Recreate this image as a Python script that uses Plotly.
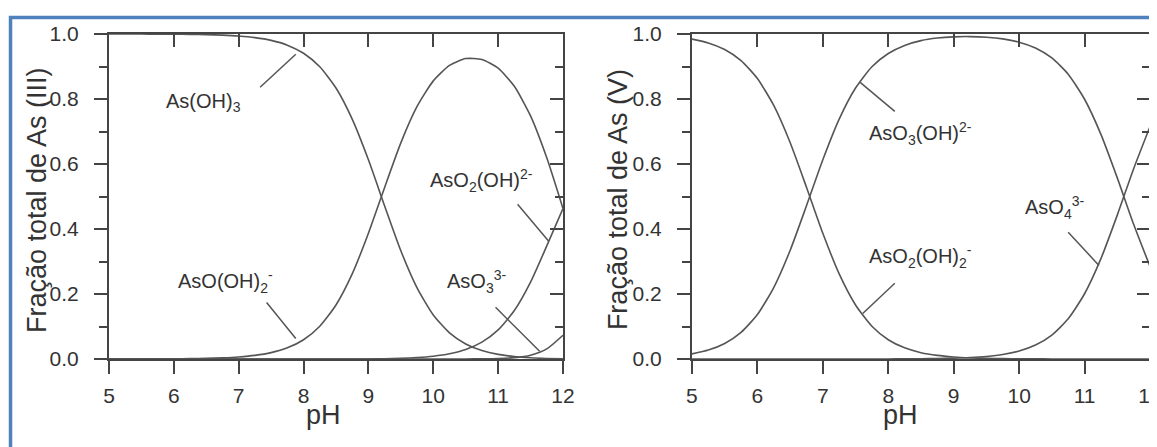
import plotly.graph_objects as go

# ---------------- data ----------------
ph = [5.0, 5.25, 5.5, 5.75, 6.0, 6.25, 6.5, 6.75, 7.0, 7.25, 7.5, 7.75, 8.0, 8.25,
      8.5, 8.75, 9.0, 9.25, 9.5, 9.75, 10.0, 10.25, 10.5, 10.75, 11.0, 11.25, 11.5, 11.75, 12.0]

# As(III)
as3_h3 = [1.0, 1.0, 0.9998, 0.9996, 0.9994, 0.9989, 0.998, 0.9965, 0.9937, 0.9889, 0.9804,
          0.9657, 0.9407, 0.8991, 0.8337, 0.7381, 0.613, 0.471, 0.333, 0.219, 0.1356, 0.0805,
          0.0463, 0.026, 0.0142, 0.0075, 0.0037, 0.0017, 0.0007]
as3_h2 = [0.0001, 0.0001, 0.0002, 0.0004, 0.0006, 0.0011, 0.002, 0.0035, 0.0063, 0.0111,
          0.0196, 0.0343, 0.0593, 0.1009, 0.1663, 0.2619, 0.387, 0.528, 0.665, 0.777, 0.8558,
          0.9034, 0.9244, 0.9218, 0.895, 0.839, 0.748, 0.619, 0.463]
as3_h1 = [0, 0, 0, 0, 0, 0, 0, 0, 0, 0, 0, 0, 0, 0, 0, 0, 0.0002, 0.001, 0.002, 0.0044,
          0.0086, 0.0161, 0.0292, 0.0518, 0.0895, 0.149, 0.2365, 0.348, 0.463]
as3_h0 = [0, 0, 0, 0, 0, 0, 0, 0, 0, 0, 0, 0, 0, 0, 0, 0, 0, 0, 0, 0, 0.0001, 0.0001,
          0.0002, 0.0005, 0.0014, 0.0042, 0.0118, 0.031, 0.073]

# As(V)
as5_h2 = [0.9844, 0.9726, 0.9523, 0.9182, 0.8632, 0.7801, 0.6661, 0.5287, 0.3869, 0.2619,
          0.1663, 0.1009, 0.0593, 0.0343, 0.0195, 0.0111, 0.0063, 0.0035, 0.002, 0.0011,
          0.0006, 0.0003, 0.0002, 0.0001, 0.0001, 0, 0, 0, 0]
as5_h1 = [0.0156, 0.0274, 0.0477, 0.0818, 0.1368, 0.2199, 0.3339, 0.4713, 0.6131, 0.7381,
          0.8337, 0.8991, 0.940, 0.965, 0.9797, 0.9875, 0.9913, 0.992, 0.990, 0.9849, 0.9749,
          0.9569, 0.9264, 0.8762, 0.7992, 0.6912, 0.5573, 0.4145, 0.2847]
as5_h0 = [0, 0, 0, 0, 0, 0, 0, 0, 0, 0, 0, 0, 0.0002, 0.0004, 0.0008, 0.0014, 0.0025,
          0.0044, 0.0079, 0.0139, 0.0245, 0.0428, 0.0736, 0.1238, 0.2008, 0.3088, 0.4427,
          0.5855, 0.7153]

x_ticks = [5, 6, 7, 8, 9, 10, 11, 12]
y_ticks = [0.0, 0.2, 0.4, 0.6, 0.8, 1.0]
y_titles = ["Fração total de As (III)", "Fração total de As (V)"]

# labels: (text, x, y) and leader lines (x0, y0, x1, y1), in data units
labels_iii = [("As(OH)<sub>3</sub>", 6.45, 0.79),
              ("AsO(OH)<sub>2</sub><sup>-</sup>", 6.79, 0.24),
              ("AsO<sub>2</sub>(OH)<sup>2-</sup>", 10.75, 0.55),
              ("AsO<sub>3</sub><sup>3-</sup>", 10.67, 0.24)]
leaders_iii = [(7.33, 0.836, 7.88, 0.9375), (7.43, 0.174, 7.88, 0.063),
               (11.30, 0.476, 11.78, 0.362), (10.96, 0.159, 11.64, 0.024)]
labels_v = [("AsO<sub>3</sub>(OH)<sup>2-</sup>", 8.49, 0.695),
            ("AsO<sub>2</sub>(OH)<sub>2</sub><sup>-</sup>", 8.49, 0.315),
            ("AsO<sub>4</sub><sup>3-</sup>", 10.54, 0.465)]
leaders_v = [(8.10, 0.762, 7.57, 0.851), (8.10, 0.233, 7.61, 0.140),
             (10.75, 0.39, 11.22, 0.288)]
# title placement (x-title centre along each x axis in data units; y-title centre in paper units)
ph_title_x = [8.30, 8.18]
ytitle_paper_x = [-0.0692, 0.4890]

# ---------------- styling ----------------
FONT = "Liberation Sans, Arial, Helvetica, sans-serif"
LINE_C = "#555555"
AX_C = "#444444"
TXT_C = "#333333"
CLEAR = "rgba(0,0,0,0)"

fig = go.Figure()

def add_series(xa, ya, ys):
    for y in ys:
        fig.add_trace(go.Scatter(x=ph, y=y, mode="lines", xaxis=xa, yaxis=ya,
                                 line=dict(color=LINE_C, width=1.6, shape="spline", smoothing=0.6),
                                 hoverinfo="skip", showlegend=False))

add_series("x", "y", [as3_h3, as3_h2, as3_h1, as3_h0])
add_series("x2", "y2", [as5_h2, as5_h1, as5_h0])
# invisible traces to activate the extra tick-only axes
for xa_, ya_, yv in (("x3", "y3", as3_h3), ("x4", "y4", as5_h2),
                     ("x5", "y5", as3_h3), ("x6", "y6", as5_h2)):
    fig.add_trace(go.Scatter(x=ph, y=yv, mode="lines", xaxis=xa_, yaxis=ya_,
                             line=dict(width=0), opacity=0, hoverinfo="skip", showlegend=False))

tickfont = dict(family=FONT, size=21, color=TXT_C)
titlefont = dict(family=FONT, size=27, color=TXT_C)

# main axes: carry the labels; their (transparent) tick length sets the label distance
def xa(domain, anchor):
    return dict(domain=domain, anchor=anchor, range=[5, 12], tickmode="array", tickvals=x_ticks,
                ticks="outside", ticklen=17, tickwidth=2, tickcolor=CLEAR,
                showline=True, linecolor=AX_C, linewidth=2, showgrid=False, zeroline=False,
                tickfont=tickfont)

def ya(anchor):
    return dict(domain=[0, 1], anchor=anchor, range=[0, 1], tickmode="array", tickvals=y_ticks,
                tickformat=".1f", ticks="outside", ticklen=24, tickwidth=2, tickcolor=CLEAR,
                minor=dict(dtick=0.1, ticks="outside", ticklen=8, tickwidth=2, tickcolor=AX_C),
                showline=True, linecolor=AX_C, linewidth=2, showgrid=False, zeroline=False,
                tickfont=tickfont)

# tick-only overlay axes
def xt(over, anchor, side, ticks):
    return dict(overlaying=over, anchor=anchor, side=side, range=[5, 12], tickmode="array",
                tickvals=x_ticks, ticks=ticks, ticklen=13, tickwidth=2, tickcolor=AX_C,
                showticklabels=False, showline=True, linecolor=AX_C, linewidth=2,
                showgrid=False, zeroline=False)

def yt(over, anchor, side, ticks):
    d = dict(overlaying=over, anchor=anchor, side=side, range=[0, 1], tickmode="array",
             tickvals=y_ticks, ticks=ticks, ticklen=13, tickwidth=2, tickcolor=AX_C,
             showticklabels=False, showline=True, linecolor=AX_C, linewidth=2,
             showgrid=False, zeroline=False)
    if ticks == "inside":
        d["minor"] = dict(dtick=0.1, ticks="inside", ticklen=8, tickwidth=2, tickcolor=AX_C)
    return d

# the page adds an 8px body margin, so margins are set 8px smaller on top/left
fig.update_layout(
    width=1157, height=447,
    margin=dict(l=101, r=15, t=26, b=96, autoexpand=False),
    paper_bgcolor="white", plot_bgcolor="white",
    xaxis=xa([0, 0.4361], "y"), yaxis=ya("x"),
    xaxis2=xa([0.56, 1], "y2"), yaxis2=ya("x2"),
    xaxis3=xt("x", "y3", "top", "inside"), yaxis3=yt("y", "x3", "right", "inside"),
    xaxis4=xt("x2", "y4", "top", "inside"), yaxis4=yt("y2", "x4", "right", "inside"),
    xaxis5=xt("x", "y5", "bottom", "outside"), yaxis5=yt("y", "x5", "left", "outside"),
    xaxis6=xt("x2", "y6", "bottom", "outside"), yaxis6=yt("y2", "x6", "left", "outside"),
)

annots = []
shapes = []
for (lab, leaders, xr, yr) in ((labels_iii, leaders_iii, "x", "y"), (labels_v, leaders_v, "x2", "y2")):
    for t, x, y in lab:
        annots.append(dict(text=t, x=x, y=y, xref=xr, yref=yr, showarrow=False,
                           font=dict(family=FONT, size=20, color=TXT_C),
                           xanchor="center", yanchor="middle"))
    for x0, y0, x1, y1 in leaders:
        shapes.append(dict(type="line", xref=xr, yref=yr, x0=x0, y0=y0, x1=x1, y1=y1,
                           line=dict(color=LINE_C, width=1.5)))

# axis titles
for xr, px in zip(("x", "x2"), ph_title_x):
    annots.append(dict(text="pH", x=px, y=-0.172, xref=xr, yref="paper", showarrow=False,
                       font=titlefont, xanchor="center", yanchor="middle"))
for t, px in zip(y_titles, ytitle_paper_x):
    annots.append(dict(text=t, x=px, y=0.489, xref="paper", yref="paper", showarrow=False,
                       textangle=-90, font=titlefont, xanchor="center", yanchor="middle"))

# blue picture frame (top and left edges visible, others run off the image)
shapes.append(dict(type="rect", xref="paper", yref="paper", x0=-0.0946, y0=-0.35, x1=1.05, y1=1.0508,
                   line=dict(color="#4F81BD", width=3.5), layer="above"))

fig.update_layout(annotations=annots, shapes=shapes)
fig.write_html("out.html")
